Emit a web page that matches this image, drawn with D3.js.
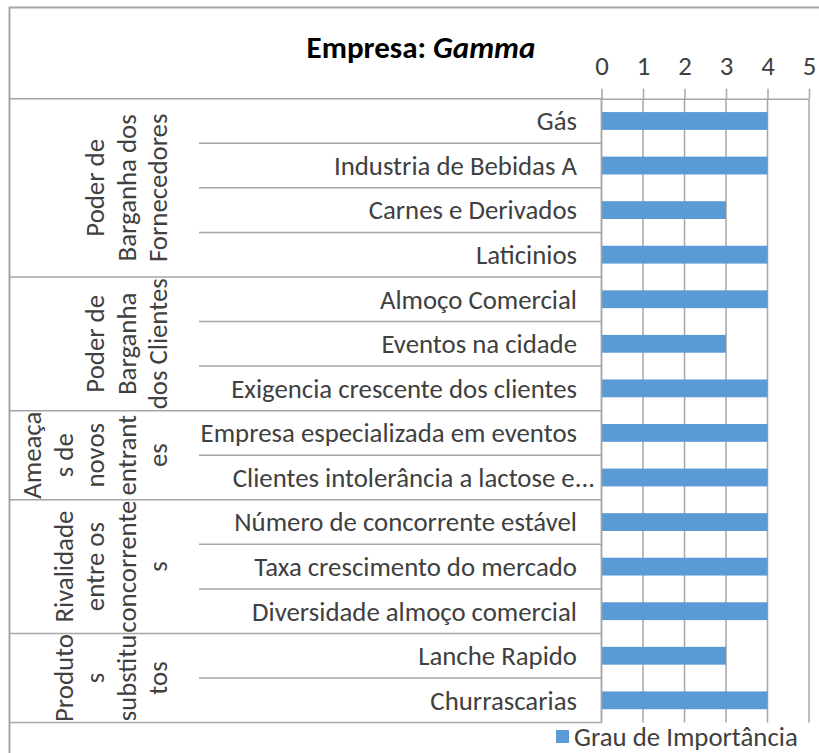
<!DOCTYPE html>
<html><head><meta charset="utf-8">
<script src="https://cdn.jsdelivr.net/npm/d3@7"></script>
<style>body{margin:0;background:#fff}svg{display:block}</style>
</head><body>
<script>
const categories = ["Gás","Industria de Bebidas A","Carnes e Derivados","Laticinios",
  "Almoço Comercial","Eventos na cidade","Exigencia crescente dos clientes",
  "Empresa especializada em eventos","Clientes intolerância a lactose e...",
  "Número de concorrente estável","Taxa crescimento do mercado","Diversidade almoço comercial",
  "Lanche Rapido","Churrascarias"];
const values = [4,4,3,4,4,3,4,4,4,4,4,4,3,4];
const groupLabels = [
  ["Poder de","Barganha dos","Fornecedores"],
  ["Poder de","Barganha","dos Clientes"],
  ["Ameaça","s de","novos","entrant","es"],
  ["Rivalidade","entre os","concorrente","s"],
  ["Produto","s","substitu","tos"]];
const groupSizes = [4,3,2,3,2];
const tickValues = [0,1,2,3,4,5];
const seriesName = "Grau de Importância";

(function(){
const W=819,H=753;
const font="Calibri, Carlito, 'Open Sans', sans-serif";
const fs=26.8;
const svg=d3.select("body").append("svg").attr("width",W).attr("height",H);
const lineCol="#a6a6a6", textCol="#404040";

const x=d3.scaleLinear().domain([0,5]).range([601.5,809]);
const y=d3.scaleBand().domain(categories).range([98.7,722.6]).paddingInner(0.6).paddingOuter(0.3);
const step=y.step(), pTop=98.7, pBot=722.6;

svg.append("path").attr("d",`M9.5,${H}V7.5H${W}`).attr("fill","none").attr("stroke",lineCol).attr("stroke-width",2);

const t=svg.append("text").attr("x",421).attr("y",58).attr("text-anchor","middle")
  .attr("font-family",font).attr("font-size",31).attr("font-weight","bold").attr("fill","#000");
t.append("tspan").text("Empresa: ");
t.append("tspan").attr("font-style","italic").text("Gamma");

svg.append("g").selectAll("line").data(tickValues).join("line")
  .attr("x1",d=>x(d)).attr("x2",d=>x(d)).attr("y1",pTop).attr("y2",pBot)
  .attr("stroke",lineCol).attr("stroke-width",1.5);

const ax=svg.append("g").attr("transform",`translate(0,${pTop})`)
  .call(d3.axisTop(x).tickValues(tickValues).tickFormat(d3.format("d")).tickSize(10).tickSizeOuter(0).tickPadding(14));
ax.select(".domain").attr("stroke",lineCol).attr("stroke-width",1.5);
ax.selectAll(".tick line").attr("stroke",lineCol).attr("stroke-width",1.5);
ax.selectAll(".tick text").attr("font-family",font).attr("font-size",fs).attr("fill",textCol);

svg.append("g").selectAll("rect").data(categories).join("rect")
  .attr("x",x(0)).attr("y",d=>y(d)).attr("height",y.bandwidth())
  .attr("width",(d,i)=>x(values[i])-x(0)).attr("fill","#5b9bd5");

svg.append("line").attr("x1",601.5).attr("x2",601.5).attr("y1",pTop).attr("y2",pBot)
  .attr("stroke",lineCol).attr("stroke-width",1.5);

let idx=0; const groupStarts=[];
groupSizes.forEach(s=>{groupStarts.push(idx); idx+=s;});
const seps=svg.append("g").attr("stroke",lineCol).attr("stroke-width",1.5);
for(let i=0;i<=categories.length;i++){
  const yy=pTop+i*step;
  const isGroup = i===categories.length || groupStarts.includes(i);
  seps.append("line").attr("x1",isGroup?9.5:199).attr("x2",601.5).attr("y1",yy).attr("y2",yy);
}

svg.append("g").selectAll("text").data(categories).join("text")
  .attr("x",d=>d.endsWith("...")?595:577).attr("y",d=>y(d)+y.bandwidth()/2).attr("dy","0.35em")
  .attr("text-anchor","end").attr("font-family",font).attr("font-size",fs).attr("fill",textCol)
  .text(d=>d);

groupLabels.forEach((lines,g)=>{
  const yc=pTop+(groupStarts[g]+groupSizes[g]/2)*step;
  const n=lines.length;
  lines.forEach((ln,i)=>{
    const xc=158-(n-1-i)*31.5;
    svg.append("text").attr("transform",`translate(${xc},${yc}) rotate(-90)`)
      .attr("text-anchor","middle").attr("dy","0.35em")
      .attr("font-family",font).attr("font-size",fs).attr("fill",textCol).text(ln);
  });
});

svg.append("rect").attr("x",556).attr("y",730).attr("width",13).attr("height",13).attr("fill","#5b9bd5");
svg.append("text").attr("x",574).attr("y",737).attr("dy","0.35em").attr("font-family",font)
  .attr("font-size",fs).attr("fill",textCol).text(seriesName);
})();
</script>
</body></html>
